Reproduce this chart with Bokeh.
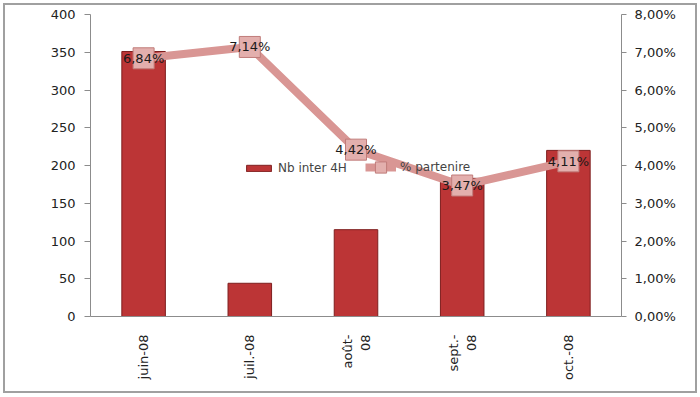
import math
from bokeh.plotting import figure
from bokeh.models import (ColumnDataSource, Range1d, LinearAxis, FactorRange,
                          CustomJSTickFormatter, SingleIntervalTicker, Legend, LegendItem)
from bokeh.embed import file_html
from bokeh.resources import INLINE
from bokeh.core.properties import value

months = ["juin-08", "juil.-08", "août-\n08", "sept.-\n08", "oct.-08"]
nb_inter = [351, 44, 115, 183, 220]
pct_partenaire = [6.84, 7.14, 4.42, 3.47, 4.11]
pct_labels = ["6,84%", "7,14%", "4,42%", "3,47%", "4,11%"]

FONT = "DejaVu Sans"

src = ColumnDataSource(dict(m=months, nb=nb_inter, pct=pct_partenaire, lab=pct_labels))

p = figure(x_range=FactorRange(*months, range_padding=0), y_range=Range1d(0, 400),
           width=694, height=390, output_backend="svg", toolbar_location=None,
           min_border_left=85, min_border_right=78, min_border_top=9, min_border_bottom=79)
p.styles = {"border": "2px solid #a0a0a0", "box-sizing": "border-box", "margin": "3px"}
p.xgrid.visible = False
p.ygrid.visible = False
p.outline_line_color = None

p.extra_y_ranges = {"pct": Range1d(0, 8)}

bars = p.vbar(x="m", top="nb", width=0.41, source=src,
              fill_color="#BC3536", line_color="#7E1E1E", line_width=1)

line = p.line(x="m", y="pct", source=src, y_range_name="pct",
              line_color="#D99694", line_width=8)
marks = p.scatter(x="m", y="pct", source=src, y_range_name="pct", marker="square",
                  size=21, fill_color="#E3AFAD", line_color="#C07C7A", line_width=1)
p.text(x="m", y="pct", text="lab", source=src, y_range_name="pct",
       text_align="center", text_baseline="middle", text_font=value(FONT),
       text_font_size="13px", text_color="#1a1a1a")

# left axis
ya = p.yaxis[0]
ya.ticker = SingleIntervalTicker(interval=50)
ya.major_label_text_font = FONT
ya.major_label_text_font_size = "13px"
ya.major_label_text_color = "#222222"
ya.axis_line_color = "#8c8c8c"
ya.major_tick_line_color = "#8c8c8c"
ya.major_tick_out = 6
ya.major_tick_in = 0
ya.minor_tick_line_color = None
ya.major_label_standoff = 9

# right axis
ra = LinearAxis(y_range_name="pct", ticker=SingleIntervalTicker(interval=1),
                formatter=CustomJSTickFormatter(code="return tick.toFixed(2).replace('.', ',') + '%';"))
ra.major_label_text_font = FONT
ra.major_label_text_font_size = "13px"
ra.major_label_text_color = "#222222"
ra.axis_line_color = "#8c8c8c"
ra.major_tick_line_color = "#8c8c8c"
ra.major_tick_out = 5
ra.major_tick_in = 0
ra.minor_tick_line_color = None
ra.major_label_standoff = 8
p.add_layout(ra, "right")

# x axis
xa = p.xaxis[0]
xa.major_label_orientation = math.pi / 2
xa.major_label_text_font = FONT
xa.major_label_text_font_size = "13px"
xa.major_label_text_color = "#222222"
xa.axis_line_color = "#8c8c8c"
xa.major_tick_line_color = None
xa.major_label_standoff = 12

common = dict(orientation="horizontal", background_fill_alpha=0, border_line_color=None,
              label_text_font=FONT, label_text_font_size="12px",
              padding=0, margin=0, label_standoff=4)
legend1 = Legend(items=[LegendItem(label="Nb inter 4H", renderers=[bars])],
                 location=(153, 141), glyph_width=31, glyph_height=8, **common)
legend2 = Legend(items=[LegendItem(label="% partenire", renderers=[line, marks])],
                 location=(275, 135), glyph_width=31, glyph_height=28, **common)
p.add_layout(legend1, "center")
p.add_layout(legend2, "center")

open("out.html", "w").write(file_html(p, INLINE))
